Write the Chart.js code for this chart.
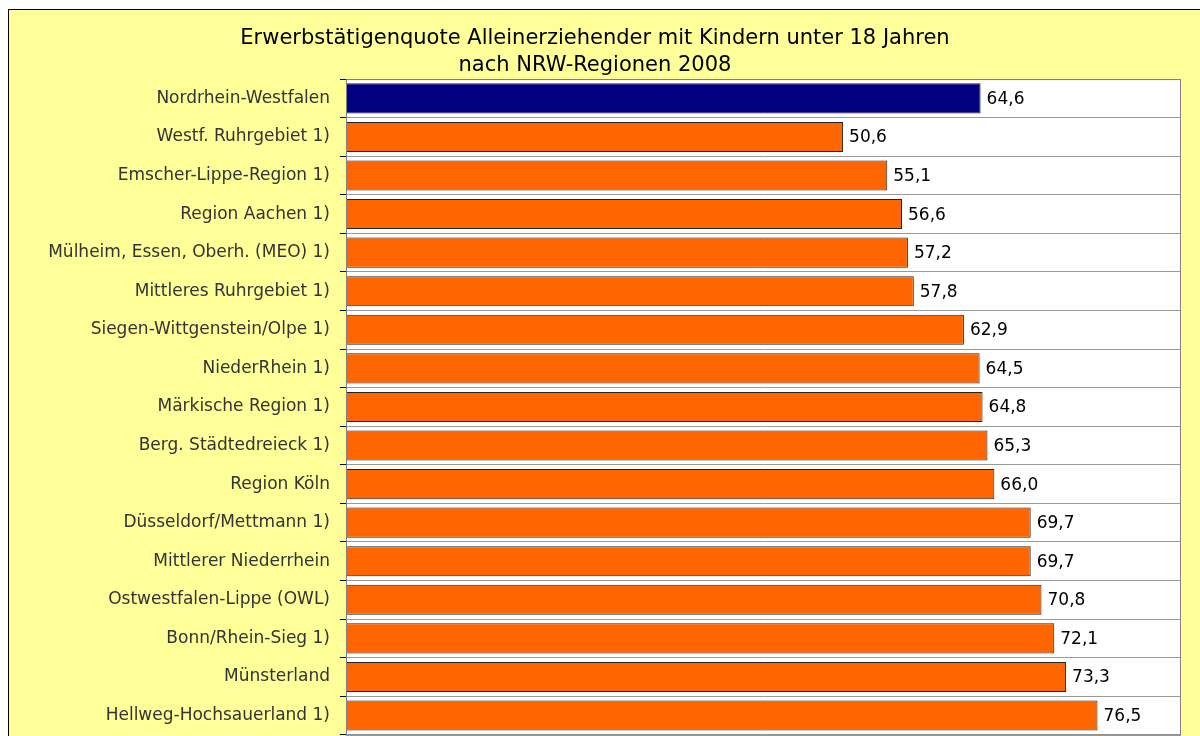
<!DOCTYPE html>
<html>
<head>
<meta charset="utf-8">
<script src="https://cdn.jsdelivr.net/npm/chart.js@4"></script>
<style>
  html, body { margin: 0; padding: 0; background: #fff; overflow: hidden; }
  #frame {
    position: absolute; left: 8px; top: 9px;
    width: 1192px; height: 760px;
    border-top: 1px solid #000; border-left: 1px solid #000;
    background: #FFFF99;
  }
  #wrap { position: absolute; left: 0; top: 0; width: 1191px; height: 745px; }
</style>
</head>
<body>
<div id="frame"><div id="wrap"><canvas id="chart"></canvas></div></div>
<script>
const regionen = [
    'Nordrhein-Westfalen',
    'Westf. Ruhrgebiet 1)',
    'Emscher-Lippe-Region 1)',
    'Region Aachen 1)',
    'Mülheim, Essen, Oberh. (MEO) 1)',
    'Mittleres Ruhrgebiet 1)',
    'Siegen-Wittgenstein/Olpe 1)',
    'NiederRhein 1)',
    'Märkische Region 1)',
    'Berg. Städtedreieck 1)',
    'Region Köln',
    'Düsseldorf/Mettmann 1)',
    'Mittlerer Niederrhein',
    'Ostwestfalen-Lippe (OWL)',
    'Bonn/Rhein-Sieg 1)',
    'Münsterland',
    'Hellweg-Hochsauerland 1)'
];
const quoten = [64.6, 50.6, 55.1, 56.6, 57.2, 57.8, 62.9, 64.5, 64.8, 65.3, 66.0, 69.7, 69.7, 70.8, 72.1, 73.3, 76.5];
const titelZeilen = ['Erwerbstätigenquote Alleinerziehender mit Kindern unter 18 Jahren', 'nach NRW-Regionen 2008'];

const farben = quoten.map((v, i) => i === 0 ? '#000080' : '#FF6600');

const plotHintergrund = {
    id: 'plotHintergrund',
    beforeDraw(chart) {
        const { ctx, chartArea: a } = chart;
        ctx.save();
        ctx.fillStyle = '#ffffff';
        ctx.fillRect(a.left, a.top, a.right - a.left, a.bottom - a.top);
        ctx.restore();
    },
    afterDraw(chart) {
        const { ctx, chartArea: a } = chart;
        ctx.save();
        ctx.strokeStyle = '#808080';
        ctx.lineWidth = 1;
        ctx.strokeRect(a.left + 0.5, a.top + 0.5, a.right - a.left - 1, a.bottom - a.top);
        // Werte rechts neben den Balken
        const meta = chart.getDatasetMeta(0);
        ctx.fillStyle = '#000';
        ctx.font = '17px "DejaVu Sans"';
        ctx.textBaseline = 'middle';
        ctx.textAlign = 'left';
        meta.data.forEach((bar, i) => {
            ctx.fillText(quoten[i].toFixed(1).replace('.', ','), bar.x + 6, bar.y + 1);
        });
        ctx.restore();
    }
};

new Chart(document.getElementById('chart'), {
    type: 'bar',
    data: {
        labels: regionen,
        datasets: [{
            data: quoten,
            backgroundColor: farben,
            borderColor: '#222',
            borderWidth: 1,
            borderSkipped: false,
            barPercentage: 0.78,
            categoryPercentage: 1.0
        }]
    },
    options: {
        indexAxis: 'y',
        responsive: true,
        maintainAspectRatio: false,
        animation: false,
        layout: { padding: { left: 0, right: 19, top: 0, bottom: 1 } },
        plugins: {
            legend: { display: false },
            tooltip: { enabled: false },
            title: {
                display: true,
                text: titelZeilen,
                color: '#000',
                font: { family: 'DejaVu Sans', size: 21, weight: 'normal', lineHeight: 1.24 },
                padding: { top: 16, bottom: 1 }
            }
        },
        scales: {
            x: { display: false, min: 0, max: 85 },
            y: {
                afterFit(scale) { scale.width = 337; },
                ticks: {
                    color: '#333',
                    font: { family: 'DejaVu Sans', size: 17 },
                    padding: 10
                },
                grid: {
                    offset: true,
                    color: '#999',
                    tickColor: '#000',
                    tickLength: 6,
                    drawTicks: true
                },
                border: { display: false }
            }
        }
    },
    plugins: [plotHintergrund]
});
</script>
</body>
</html>
